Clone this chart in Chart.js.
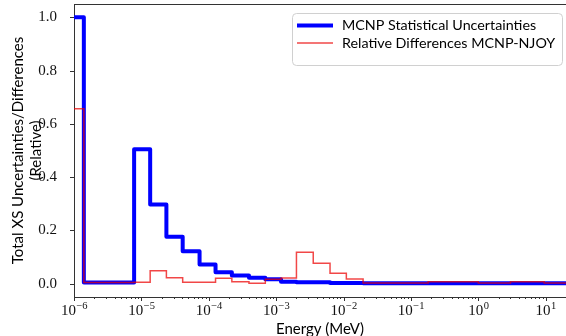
<!DOCTYPE html>
<html>
<head>
<meta charset="utf-8">
<script src="https://cdn.jsdelivr.net/npm/chart.js@4.4.1/dist/chart.umd.min.js"></script>
<style>
  html, body { margin: 0; padding: 0; background: #fff; overflow: hidden; }
  #wrap { width: 566px; height: 336px; position: relative; }
</style>
</head>
<body>
<div id="wrap"><canvas id="chart"></canvas></div>
<script>
// bin edges (MeV) of the group structure
const binEdges = [1e-6, 1.4e-6, 7.8e-6, 1.35e-5, 2.35e-5, 4.1e-5, 7.3e-5, 1.26e-4, 2.2e-4, 3.95e-4,
	6.9e-4, 1.18e-3, 2.0e-3, 3.55e-3, 6.3e-3, 1.1e-2, 1.95e-2, 0.18, 1.0, 3.0, 9.5, 20];
// one value per bin
const mcnpUncertainty = [1.0, 0.004, 0.505, 0.297, 0.176, 0.122, 0.072, 0.043, 0.031, 0.0225,
	0.0165, 0.0075, 0.005, 0.005, 0.003, 0.003, 0.002, 0.002, 0.002, 0.002, 0.002];
const relDiffNjoy = [0.657, 0.004, 0.005, 0.049, 0.0225, 0.005, 0.005, 0.02, 0.0075, 0.0015,
	0.0165, 0.021, 0.118, 0.0766, 0.039, 0.0176, 0.003, 0.0075, 0.003, 0.0075, 0.003];
const yTicks = [0.0, 0.2, 0.4, 0.6, 0.8, 1.0];
const xDecades = [-6, -5, -4, -3, -2, -1, 0, 1];
const xMin = 1e-6;
const xMax = 20;

// histogram outline: each bin gives its left and right edge at the bin value
function stepPoints(values) {
	const pts = [];
	values.forEach((v, i) => {
		pts.push({ x: binEdges[i], y: v });
		pts.push({ x: binEdges[i + 1], y: v });
	});
	return pts;
}

function isDecade(v) {
	const l = Math.log10(v);
	return Math.abs(l - Math.round(l)) < 1e-9;
}

const serif = "'Liberation Serif', 'DejaVu Serif', serif";
const sans = "Lato, 'DejaVu Sans', sans-serif";

function noScalePadding(s) {
	s.paddingTop = 0;
	s.paddingBottom = 0;
	s.paddingLeft = 0;
	s.paddingRight = 0;
}

const axisDecor = {
	id: "axisDecor",
	afterDraw(chart) {
		const { ctx, chartArea: a, scales: { x, y } } = chart;
		ctx.save();
		ctx.strokeStyle = "#333";
		ctx.lineWidth = 1;
		ctx.beginPath();
		ctx.moveTo(a.left, a.top + 0.5);
		ctx.lineTo(a.right, a.top + 0.5);
		x.ticks.forEach(t => {
			const px = Math.round(x.getPixelForValue(t.value)) + 0.5;
			const len = isDecade(t.value) ? 4 : 2;
			ctx.moveTo(px, a.bottom);
			ctx.lineTo(px, a.bottom + len);
		});
		y.ticks.forEach(t => {
			const py = Math.round(y.getPixelForValue(t.value)) + 0.5;
			ctx.moveTo(a.left - 4, py);
			ctx.lineTo(a.left, py);
		});
		ctx.stroke();

		// decade labels 10^n with a raised exponent
		ctx.fillStyle = "#111";
		ctx.textBaseline = "alphabetic";
		ctx.textAlign = "left";
		xDecades.forEach(d => {
			const v = Math.pow(10, d);
			if (v < xMin || v > xMax) return;
			const px = x.getPixelForValue(v);
			const exp = String(d).replace("-", "\u2212");
			ctx.font = "15px " + serif;
			const w1 = ctx.measureText("10").width;
			ctx.font = "10.5px " + serif;
			const w2 = ctx.measureText(exp).width;
			const x0 = px - (w1 + w2) / 2;
			ctx.font = "15px " + serif;
			ctx.fillText("10", x0, a.bottom + 18);
			ctx.font = "10.5px " + serif;
			ctx.fillText(exp, x0 + w1 + 0.5, a.bottom + 12);
		});

		// legend box in the upper right corner
		const bx = 292, by = 13, bw = 270, bh = 52;
		ctx.fillStyle = "rgba(255,255,255,0.8)";
		ctx.strokeStyle = "#d0d0d0";
		ctx.lineWidth = 1;
		ctx.beginPath();
		ctx.roundRect(bx + 0.5, by + 0.5, bw, bh, 4);
		ctx.fill();
		ctx.stroke();
		ctx.font = "14.3px " + sans;
		ctx.textBaseline = "middle";
		ctx.fillStyle = "#000";
		chart.data.datasets.forEach((ds, i) => {
			const ly = by + 12.5 + i * 17.5;
			ctx.strokeStyle = ds.borderColor;
			ctx.lineWidth = ds.borderWidth;
			ctx.beginPath();
			ctx.moveTo(bx + 5, ly);
			ctx.lineTo(bx + 41, ly);
			ctx.stroke();
			ctx.fillText(ds.label, bx + 50, ly);
		});
		ctx.restore();
	}
};

new Chart(document.getElementById("chart"), {
	type: "line",
	data: {
		datasets: [
			{
				label: "MCNP Statistical Uncertainties",
				data: stepPoints(mcnpUncertainty),
				borderColor: "#0000ff",
				borderWidth: 4,
				borderJoinStyle: "round",
				order: 1,
			},
			{
				label: "Relative Differences MCNP-NJOY",
				data: stepPoints(relDiffNjoy),
				borderColor: "rgba(235,0,0,0.72)",
				borderWidth: 1.5,
				order: 0,
			},
		],
	},
	options: {
		responsive: true,
		maintainAspectRatio: false,
		animation: false,
		devicePixelRatio: 1,
		parsing: false,
		elements: { point: { radius: 0 }, line: { tension: 0, fill: false } },
		layout: { padding: { top: 4, right: 0, left: 0, bottom: 0 } },
		plugins: { legend: { display: false }, tooltip: { enabled: false } },
		scales: {
			x: {
				type: "logarithmic",
				min: xMin,
				max: xMax,
				afterFit: s => { s.height = 39; noScalePadding(s); },
				afterBuildTicks: s => {
					const t = [];
					xDecades.forEach(d => {
						for (let m = 1; m <= 9; m++) {
							const v = m * Math.pow(10, d);
							if (v >= xMin && v <= xMax) t.push({ value: v });
						}
					});
					s.ticks = t;
				},
				grid: { display: false, drawTicks: false },
				border: { display: true, color: "#333", width: 1 },
				ticks: { display: false, autoSkip: false },
				title: {
					display: true,
					text: "Energy (MeV)",
					color: "#000",
					font: { family: sans, size: 15 },
					padding: { top: 0, bottom: -2 },
				},
			},
			y: {
				type: "linear",
				min: -0.05,
				max: 1.05,
				afterFit: s => { s.width = 74; noScalePadding(s); },
				afterBuildTicks: s => { s.ticks = yTicks.map(v => ({ value: v })); },
				grid: { display: false, drawTicks: false },
				border: { display: true, color: "#333", width: 1 },
				ticks: {
					padding: 17,
					color: "#111",
					font: { family: serif, size: 15 },
					callback: v => v.toFixed(1),
				},
				title: {
					display: true,
					text: ["Total XS Uncertainties/Differences", "(Relative)"],
					color: "#000",
					font: { family: sans, size: 15 },
					padding: { top: 9, bottom: 0 },
				},
			},
		},
	},
	plugins: [axisDecor],
});
</script>
</body>
</html>
